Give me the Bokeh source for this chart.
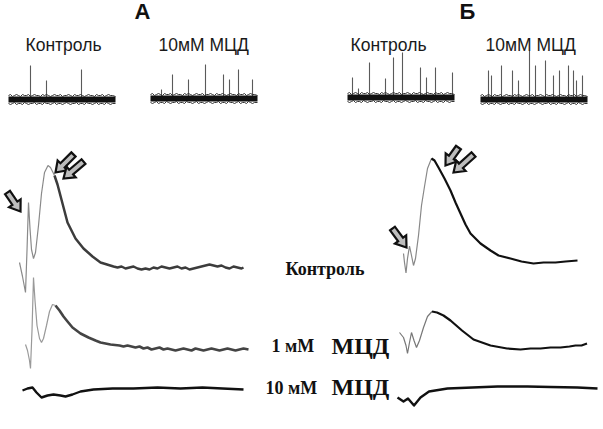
from bokeh.plotting import figure
from bokeh.models import Range1d
from bokeh.core.properties import value
from bokeh.embed import file_html
from bokeh.resources import INLINE

# ------------------------------------------------------------------
# DATA (time in sweep units, amplitude upward)
# ------------------------------------------------------------------
# Spontaneous activity sweeps (top row): spike times and amplitudes
spk_a_ctrl_t = [22, 38, 73]
spk_a_ctrl_amp = [34, 19, 30]
spk_a_mcd_t = [11, 22, 38, 55, 73, 79, 88, 102]
spk_a_mcd_amp = [9, 24, 19, 34, 24, 19, 29, 19]
spk_b_ctrl_t = [5, 11, 22, 38, 46, 55, 73, 79, 88, 105]
spk_b_ctrl_amp = [20, 9, 35, 19, 40, 45, 30, 20, 30, 25]
spk_b_mcd_t = [8, 11, 21, 32, 38, 49, 55, 65, 73, 79, 88, 93, 96, 102]
spk_b_mcd_amp = [29, 24, 34, 29, 19, 49, 34, 39, 24, 29, 34, 29, 19, 24]
band_t = [0, 2, 4, 6, 8, 10, 12, 14, 16, 18, 20, 22, 24, 26, 28, 30, 32, 34,
          36, 38, 40, 42, 44, 46, 48, 50, 52, 54, 56, 58, 60, 62, 64, 66, 68,
          70, 72, 74, 76, 78, 80, 82, 84, 86, 88, 90, 92, 94, 96, 98, 100,
          102, 104, 107]
band_hi = [4, 5, 3, 4, 5, 4, 3, 5, 4, 4, 5, 3, 4, 5, 4, 4, 3, 5, 4, 5, 4, 3,
           4, 5, 4, 4, 5, 3, 4, 4, 5, 4, 3, 5, 4, 4, 5, 4, 3, 4, 5, 4, 4, 3,
           5, 4, 4, 5, 3, 4, 5, 4, 4, 3]
band_lo = [-4, -5, -4, -3, -5, -4, -4, -5, -3, -4, -5, -4, -4, -3, -5, -4,
           -4, -5, -3, -4, -4, -5, -4, -3, -5, -4, -4, -5, -4, -3, -4, -5,
           -4, -4, -3, -5, -4, -4, -5, -3, -4, -4, -5, -4, -3, -5, -4, -4,
           -5, -3, -4, -5, -4, -4]

# Evoked responses, panel A
a_ctrl_t = [0, 3, 6, 7.5, 9, 10.5, 12, 14, 16, 19, 22, 25, 28.5, 31, 35]
a_ctrl_v = [5, -9, -25, 17, 65, 39, 18, 9, 15, 42, 74, 95, 102, 100, 92]
a_ctrl_tail_t = [35, 38, 43, 48, 56, 64, 73, 81, 94, 98, 102, 106, 110, 114,
                 118, 122, 126, 130, 134, 138, 142, 146, 150, 154, 158, 162,
                 166, 170, 174, 178, 182, 186, 190, 194, 198, 202, 206, 210,
                 214, 218, 222, 224]
a_ctrl_tail_v = [92, 83, 64, 45, 29, 19, 11, 5, 1, 0, 1, -1, 0, 1, -1, -2, -1,
                 -2, 0, -1, 1, 0, -1, 0, 1, -1, 0, -2, -1, 0, 1, 2, 3, 2, 1, 2,
                 0, -1, 1, 0, -1, 0]

a_1mm_t = [0, 2, 4, 5, 6.5, 8, 9.5, 11.5, 14, 16, 18, 21, 24, 27, 30]
a_1mm_v = [4, -2, -12, -20, 18, 71, 48, 23, 10, 6, 10, 23, 37, 44, 43]
a_1mm_tail_t = [30, 34, 38, 42, 47, 55, 63, 70, 75, 85, 94, 98, 102, 106, 110,
                114, 118, 122, 126, 130, 134, 138, 142, 146, 150, 154, 158,
                162, 166, 170, 174, 178, 182, 186, 190, 194, 198, 202, 206,
                210, 214, 218, 223]
a_1mm_tail_v = [43, 38, 32, 27, 21, 15, 11, 8, 6, 4, 3, 2, 3, 2, 1, 2, 0, 1,
                -1, 0, 1, -1, 0, -1, -2, -1, 0, -1, -2, 0, -1, -2, -1, 0, -1,
                -2, -1, 0, -1, -2, -1, 0, -1]

a_10mm_t = [0, 5, 10, 14, 19, 25, 31, 38, 43, 50, 58, 71, 90, 111, 135, 158,
            180, 200, 221]
a_10mm_v = [-2, 0, 1, -4, -9, -7, -6, -7, -8, -6, -3, -1, 0, 0, 1, 0, 1, 0, -1]

# Evoked responses, panel Б
b_ctrl_t = [0, 1, 2.5, 4, 6, 8, 10, 12, 15, 18, 21, 24, 28, 31]
b_ctrl_v = [8, -1, -11.5, 3, 15.5, 6, -4, 3, 26, 56, 75, 93, 103, 101]
b_ctrl_tail_t = [28, 31, 35, 41, 47, 52, 57, 62, 67, 72, 77, 87, 95, 107, 118,
                 130, 140, 152, 162, 174]
b_ctrl_tail_v = [103, 101, 94, 83, 71, 59, 48, 37, 28, 23, 18, 11, 6, 3, 0,
                 -2, -1, -1, 0, 1]

b_1mm_t = [0, 4, 6.5, 8, 10, 12, 14.5, 17, 20, 24, 28, 32.5]
b_1mm_v = [16, 11, 3, -5, 6, 16, 8, 1, 8, 21, 32, 37]
b_1mm_tail_t = [32.5, 37.5, 44, 51, 62.5, 74, 91, 107.5, 121, 131, 141, 151,
                161, 170, 176, 182, 187.5]
b_1mm_tail_v = [37, 36, 33, 28, 18, 9, 3, 0, -1, 0, 0, 1, 1, 2, 3, 3, 5]

b_10mm_t = [0, 6, 10.5, 16.5, 23, 31.5, 50, 75, 100, 130, 153, 180, 200]
b_10mm_v = [-10, -14, -11, -18, -10, -4, -1, 0, 1, 1, 0.5, 0, -1]

# Labels
panel_names = ["А", "Б"]
cond_top = ["Контроль", "10мМ МЦД"]
cond_low = ["Контроль", "1 мМ", "10 мМ"]
drug = "МЦД"

# ------------------------------------------------------------------
# LAYOUT (page pixel coordinates, y downward)
# ------------------------------------------------------------------
p = figure(width=603, height=429, output_backend="svg", toolbar_location=None,
           x_range=Range1d(0, 603), y_range=Range1d(429, 0),
           min_border=0, outline_line_color=None, background_fill_color="white",
           border_fill_color="white")
p.axis.visible = False
p.grid.visible = False


def place(t, v, x0, y0):
    return [x0 + a for a in t], [y0 - b for b in v]


# top sweeps
sweeps = [
    (8, 99, spk_a_ctrl_t, spk_a_ctrl_amp),
    (150, 98, spk_a_mcd_t, spk_a_mcd_amp),
    (347, 97, spk_b_ctrl_t, spk_b_ctrl_amp),
    (480, 99, spk_b_mcd_t, spk_b_mcd_amp),
]
for x0, y0, st, sa in sweeps:
    p.segment(x0=[x0 + t for t in st], y0=[y0] * len(st),
              x1=[x0 + t for t in st], y1=[y0 - a for a in sa],
              line_color="#5a5a5a", line_width=1.1)
    p.line([x0, x0 + band_t[-1]], [y0, y0], line_color="#111111", line_width=6)
    xs, ys = place(band_t, band_hi, x0, y0)
    p.line(xs, ys, line_color="#333333", line_width=1)
    xs, ys = place(band_t, band_lo, x0, y0)
    p.line(xs, ys, line_color="#333333", line_width=1)

# evoked traces: (fast part, slow part, origin)
traces = [
    (a_ctrl_t, a_ctrl_v, a_ctrl_tail_t, a_ctrl_tail_v, 19, 267, "#8a8a8a", "#3c3c3c", 2.5),
    (a_1mm_t, a_1mm_v, a_1mm_tail_t, a_1mm_tail_v, 25, 348, "#999999", "#444444", 2.6),
    (b_ctrl_t, b_ctrl_v, b_ctrl_tail_t, b_ctrl_tail_v, 403, 261, "#888888", "#111111", 2.2),
    (b_1mm_t, b_1mm_v, b_1mm_tail_t, b_1mm_tail_v, 399, 348, "#777777", "#111111", 2.2),
]
for ft, fv, st, sv, x0, y0, c1, c2, w in traces:
    xs, ys = place(ft, fv, x0, y0)
    p.line(xs, ys, line_color=c1, line_width=1.2)
    xs, ys = place(st, sv, x0, y0)
    p.line(xs, ys, line_color=c2, line_width=w, line_join="round")

for t, v, x0, y0 in [(a_10mm_t, a_10mm_v, 22, 388), (b_10mm_t, b_10mm_v, 397, 387)]:
    xs, ys = place(t, v, x0, y0)
    p.line(xs, ys, line_color="#111111", line_width=2.4, line_join="round")

# hollow block arrows (tail, tip)
arrows = [((7, 192), (20, 211)),
          ((73, 154), (55, 172)), ((83, 161), (63, 178)),
          ((392, 228), (406, 247)),
          ((458, 147), (445, 165)), ((473, 154), (453, 172))]
axs, ays = [], []
for (tx, ty), (hx, hy) in arrows:
    dx, dy = hx - tx, hy - ty
    L = (dx * dx + dy * dy) ** 0.5
    ux, uy = dx / L, dy / L
    nx, ny = -uy, ux
    sw, hw, hl = 3.0, 7.0, 10.0
    nkx, nky = hx - ux * hl, hy - uy * hl
    pts = [(tx + nx * sw, ty + ny * sw), (nkx + nx * sw, nky + ny * sw),
           (nkx + nx * hw, nky + ny * hw), (hx, hy),
           (nkx - nx * hw, nky - ny * hw), (nkx - nx * sw, nky - ny * sw),
           (tx - nx * sw, ty - ny * sw)]
    axs.append([q[0] for q in pts])
    ays.append([q[1] for q in pts])
p.patches(axs, ays, fill_color="#bdbdbd", line_color="#111111", line_width=2.2,
          line_join="miter")

# texts
sans = value("Liberation Sans")
serif = value("Liberation Serif")
p.text(x=[142, 467], y=[11, 11], text=panel_names, text_font=sans,
       text_font_size="22px", text_font_style="bold", text_align="center",
       text_baseline="middle", text_color="#111111")
p.text(x=[25, 158, 350, 485], y=[44, 44, 44, 44], text=cond_top * 2,
       text_font=sans, text_font_size="17.5px", text_align="left",
       text_baseline="middle", text_color="#1a1a1a")
p.text(x=[285, 271, 265], y=[268, 345, 387], text=cond_low, text_font=serif,
       text_font_size="18px", text_font_style="bold", text_align="left",
       text_baseline="middle", text_color="#111111")
p.text(x=[331, 331], y=[345, 386], text=[drug, drug], text_font=serif,
       text_font_size="24px", text_font_style="bold", text_align="left",
       text_baseline="middle", text_color="#111111")

open("out.html", "w").write(file_html(p, INLINE))
